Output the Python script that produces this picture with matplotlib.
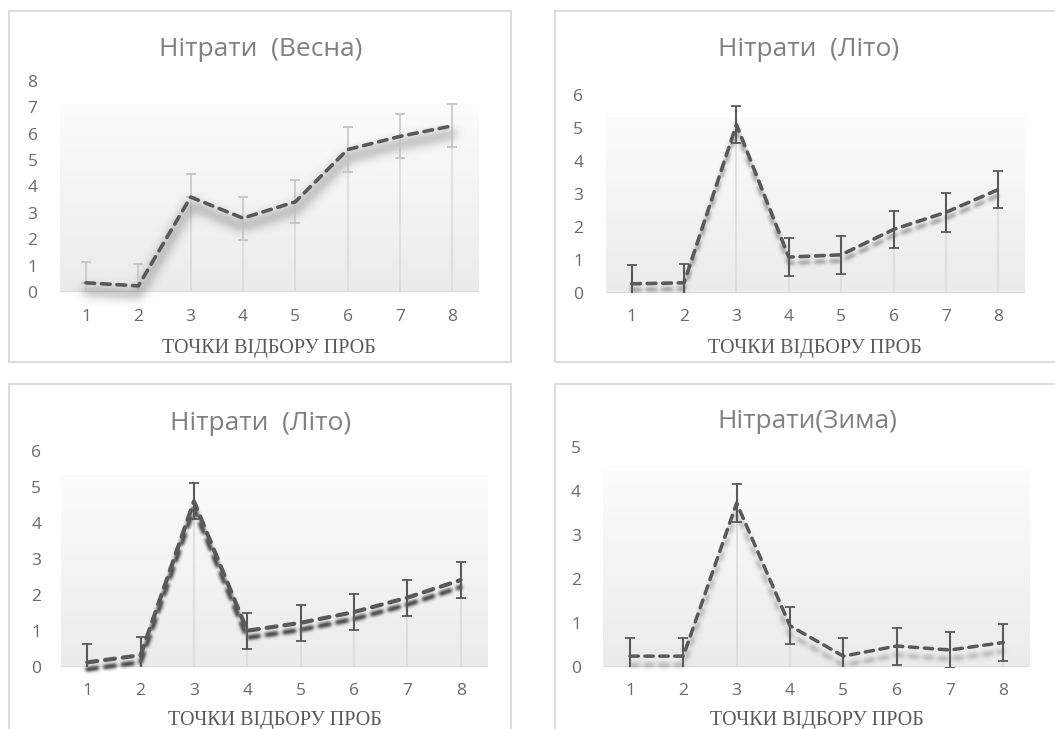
import numpy as np
import matplotlib
matplotlib.use("Agg")
import matplotlib.pyplot as plt
from matplotlib.patches import Rectangle
from matplotlib.colors import LinearSegmentedColormap

# ---- data -------------------------------------------------------------
points = [1, 2, 3, 4, 5, 6, 7, 8]
point_labels = ["1", "2", "3", "4", "5", "6", "7", "8"]

spring_vals = [0.35, 0.23, 3.6, 2.8, 3.42, 5.4, 5.9, 6.3]
spring_err_up = [0.8, 0.85, 0.87, 0.81, 0.82, 0.84, 0.83, 0.82]
spring_err_down = [0.0, 0.0, 0.0, 0.81, 0.82, 0.84, 0.83, 0.82]

summer_a_vals = [0.27, 0.3, 5.1, 1.08, 1.15, 1.92, 2.44, 3.13]
summer_a_err = [0.58, 0.58, 0.57, 0.57, 0.58, 0.57, 0.6, 0.57]

summer_b_vals = [0.12, 0.32, 4.6, 1.0, 1.22, 1.52, 1.92, 2.41]
summer_b_err = [0.5, 0.5, 0.5, 0.5, 0.5, 0.5, 0.5, 0.5]

winter_vals = [0.24, 0.24, 3.72, 0.93, 0.24, 0.47, 0.38, 0.55]
winter_err = [0.42, 0.42, 0.43, 0.42, 0.42, 0.42, 0.42, 0.42]

titles = ["Нітрати  (Весна)", "Нітрати  (Літо)", "Нітрати  (Літо)", "Нітрати(Зима)"]
x_label = "ТОЧКИ ВІДБОРУ ПРОБ"

# ---- styling ----------------------------------------------------------
W, H = 1055, 729
DARK = "#595959"
LIGHT = "#d9d9d9"
TITLE_C = "#808080"
TICK_C = "#6a6a6a"
SANS = ["Open Sans", "DejaVu Sans"]
SERIF = ["Liberation Serif", "DejaVu Serif"]
DASH = [2.4, 1.9]

fig = plt.figure(figsize=(W / 100, H / 100), dpi=100)
fig.patch.set_facecolor("white")


def fbox(x0, y0, x1, y1):
    return [x0 / W, 1 - y1 / H, (x1 - x0) / W, (y1 - y0) / H]


def gauss_kernel(sigma):
    r = max(1, int(3 * sigma))
    t = np.arange(-r, r + 1)
    k = np.exp(-0.5 * (t / sigma) ** 2)
    return k / k.sum()


class DropShadow:
    """Agg filter: blurred, shifted grey copy of an artist."""

    def __init__(self, sigma, dy, alpha, color=(0.33, 0.33, 0.33)):
        self.sigma = sigma
        self.dy = dy
        self.alpha = alpha
        self.color = color

    def __call__(self, im, dpi):
        pad = int(3 * self.sigma) + 2
        a = np.pad(im[:, :, 3], pad)
        k = gauss_kernel(self.sigma)
        a = np.apply_along_axis(lambda r: np.convolve(r, k, mode="same"), 0, a)
        a = np.apply_along_axis(lambda r: np.convolve(r, k, mode="same"), 1, a)
        out = np.zeros(a.shape + (4,))
        out[..., :3] = self.color
        out[..., 3] = np.clip(a * self.alpha, 0, 1)
        return out, -pad, -pad - int(self.dy)


grad_cmap = LinearSegmentedColormap.from_list("plotfill", ["#ebebeb", "#fcfcfc"])


def panel(frame, axbox, ymax, vals, err_up, err_down, title, title_xy, xlab_xy,
          shadow, lw=2.6, light_stems=False, ypad=15):
    # outer chart border
    fx0, fy0, fx1, fy1 = frame
    fig.add_artist(Rectangle((fx0 / W, 1 - fy1 / H), (fx1 - fx0) / W, (fy1 - fy0) / H,
                             transform=fig.transFigure, fill=False,
                             edgecolor=LIGHT, linewidth=1.3))
    ax = fig.add_axes(fbox(*axbox))
    ax.set_facecolor("none")
    for s in ax.spines.values():
        s.set_visible(False)

    # gradient plot-area fill
    grad = np.linspace(0, 1, 256).reshape(-1, 1)
    ax.imshow(grad, extent=(0.5, 8.5, 0, ymax * 0.89), aspect="auto",
              origin="lower", cmap=grad_cmap, zorder=0, interpolation="bilinear")

    # drop lines
    ax.vlines(points, 0, vals, color=LIGHT, lw=1.1, zorder=1)
    ax.axhline(0, color=LIGHT, lw=1.3, zorder=1)

    # shadow of the series
    sigma, dy, alpha, dashed = shadow
    if dashed:
        sh, = ax.plot(points, vals, color="black", lw=lw, dashes=DASH,
                      dash_capstyle="round", zorder=2)
    else:
        sh, = ax.plot(points, vals, color="black", lw=lw * 2.2,
                      solid_capstyle="round", solid_joinstyle="round", zorder=2)
    sh.set_agg_filter(DropShadow(sigma, dy, alpha))

    # error bars
    stem_c = "#c4c4c4" if light_stems else DARK
    eb = ax.errorbar(points, vals, yerr=[err_down, err_up], fmt="none",
                     ecolor=stem_c, elinewidth=1.1 if light_stems else 1.5,
                     capsize=3.6, capthick=1.3, zorder=3)
    for cap in eb[1]:
        cap.set_color(DARK)

    # series line
    ax.plot(points, vals, color=DARK, lw=lw, dashes=DASH,
            dash_capstyle="round", solid_joinstyle="round", zorder=4)

    ax.set_xlim(0.5, 8.5)
    ax.set_ylim(0, ymax)
    ax.set_xticks(points)
    ax.set_xticklabels(point_labels)
    ax.set_yticks(range(0, ymax + 1))
    ax.tick_params(length=0, labelcolor=TICK_C, labelsize=12.5)
    ax.tick_params(axis="y", pad=ypad)
    ax.tick_params(axis="x", pad=12)
    for t in ax.get_xticklabels() + ax.get_yticklabels():
        t.set_fontfamily(SANS)

    fig.text(title_xy[0] / W, 1 - title_xy[1] / H, title, ha="center", va="center",
             fontsize=19, color=TITLE_C, family=SANS)
    fig.text(xlab_xy[0] / W, 1 - xlab_xy[1] / H, x_label, ha="center", va="center",
             fontsize=14.5, color=DARK, family=SERIF)
    return ax


panel((8.5, 11, 511.5, 361.5), (59.8, 81, 478.5, 292), 8,
      spring_vals, spring_err_up, spring_err_down, titles[0],
      (260.5, 50), (269, 348), shadow=(5.0, 8, 0.5, False), light_stems=True, ypad=16)

panel((555, 11, 1075, 361.5), (605.5, 95, 1024.5, 292.7), 6,
      summer_a_vals, summer_a_err, summer_a_err, titles[1],
      (809, 50), (815, 348), shadow=(1.8, 6, 0.6, True), ypad=16)

panel((8.5, 383.5, 511.5, 760), (60.6, 451, 487.3, 666.7), 6,
      summer_b_vals, summer_b_err, summer_b_err, titles[2],
      (261, 423), (275, 720), shadow=(1.6, 7, 1.3, True), lw=3.0, ypad=14)

panel((555, 383.5, 1075, 760), (603.3, 446.7, 1030, 666.7), 5,
      winter_vals, winter_err, winter_err, titles[3],
      (807.5, 421.7), (816.7, 720), shadow=(2.2, 9, 0.5, True), lw=2.5, ypad=16)

fig.savefig("out.png", dpi=100, facecolor="white")
